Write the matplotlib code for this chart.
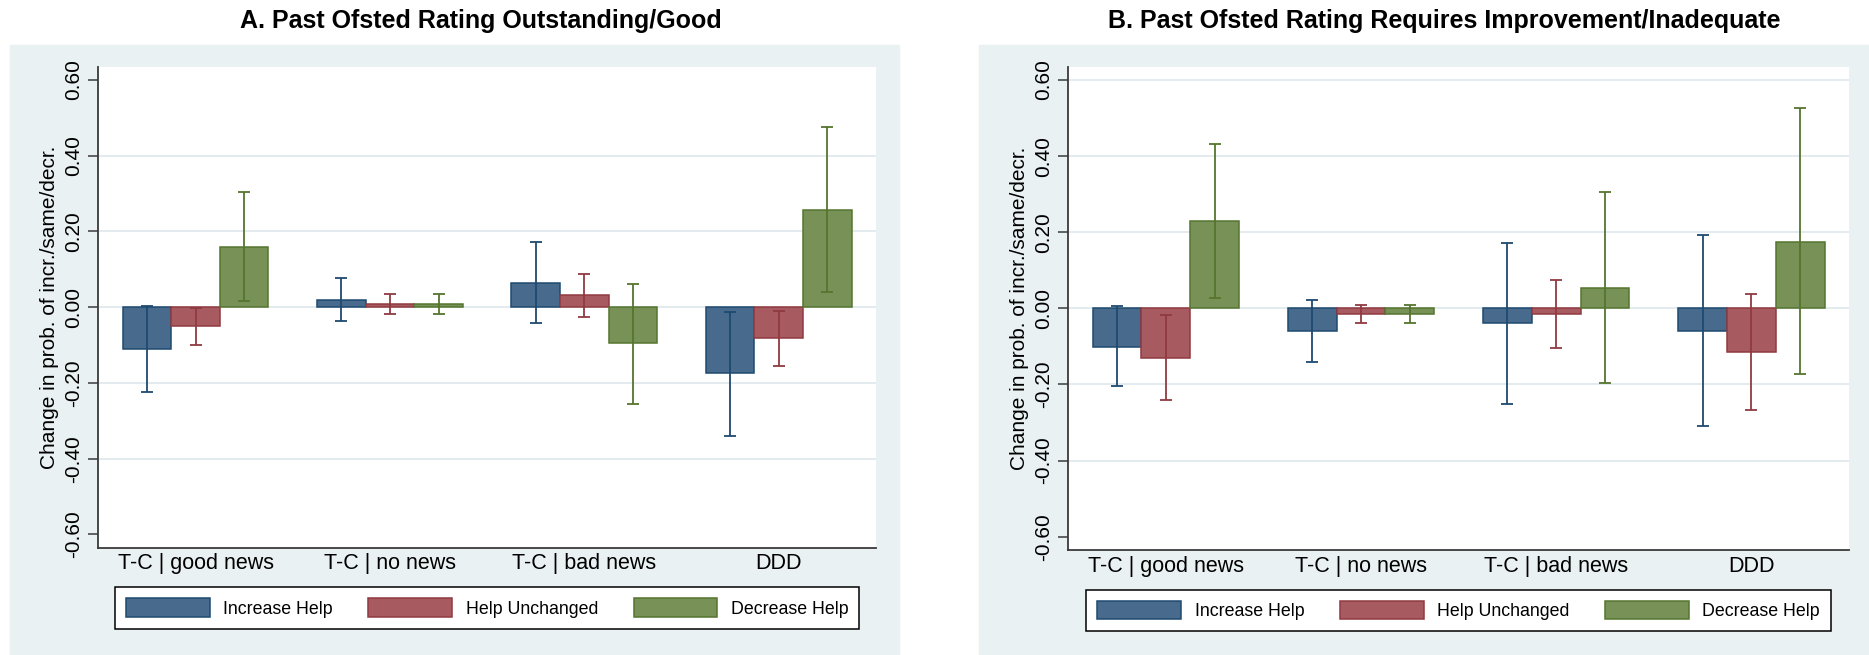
#!/usr/bin/env python3
"""
Two-panel bar chart with confidence intervals (Stata s2color look).
"""

import numpy as np
import matplotlib
matplotlib.use("Agg")
import matplotlib.pyplot as plt
from matplotlib.patches import Rectangle

plt.rcParams["font.family"] = ["Liberation Sans", "DejaVu Sans"]

CATEGORIES = ["T-C | good news", "T-C | no news", "T-C | bad news", "DDD"]
SERIES = ["Increase Help", "Help Unchanged", "Decrease Help"]
YTICKS = [-0.6, -0.4, -0.2, 0.0, 0.2, 0.4, 0.6]
YLABEL = "Change in prob. of incr./same/decr."

TITLE_A = "A. Past Ofsted Rating Outstanding/Good"
# point estimates, lower and upper CI per series (rows) and category (cols)
EST_A = [
    [-0.111, 0.018, 0.063, -0.174],
    [-0.049, 0.008, 0.032, -0.082],
    [0.160, 0.008, -0.095, 0.257],
]
LO_A = [
    [-0.223, -0.037, -0.043, -0.339],
    [-0.100, -0.018, -0.026, -0.155],
    [0.017, -0.018, -0.256, 0.040],
]
HI_A = [
    [0.002, 0.077, 0.172, -0.013],
    [-0.001, 0.034, 0.088, -0.011],
    [0.305, 0.034, 0.062, 0.475],
]
GRID_A = [-0.4, -0.2, 0.0, 0.2, 0.4]

TITLE_B = "B. Past Ofsted Rating Requires Improvement/Inadequate"
EST_B = [
    [-0.101, -0.059, -0.039, -0.059],
    [-0.130, -0.015, -0.015, -0.116],
    [0.230, -0.015, 0.054, 0.175],
]
LO_B = [
    [-0.205, -0.142, -0.252, -0.310],
    [-0.241, -0.038, -0.103, -0.266],
    [0.028, -0.038, -0.197, -0.172],
]
HI_B = [
    [0.007, 0.023, 0.172, 0.192],
    [-0.017, 0.009, 0.075, 0.037],
    [0.433, 0.009, 0.307, 0.527],
]
GRID_B = [-0.4, -0.2, 0.0, 0.2, 0.4, 0.6]

FILLS = ["#486A8C", "#A75A5F", "#779157"]
EDGES = ["#1F4A70", "#903A40", "#55752F"]
PANEL_BG = "#EAF1F3"
GRID_COLOR = "#E1E9ED"
AXIS_COLOR = "#3a3a3a"

W, H = 1869, 655


def draw_panel(ax, est, lo, hi, grid_vals):
    centers = np.arange(len(CATEGORIES)) * 4.0
    handles = []
    for i, name in enumerate(SERIES):
        x = centers + (i - 1)
        vals = np.array(est[i])
        yerr = np.vstack([vals - np.array(lo[i]), np.array(hi[i]) - vals])
        b = ax.bar(x, vals, width=1.0, color=FILLS[i], edgecolor=EDGES[i],
                   linewidth=1.1, label=name, zorder=2)
        ax.errorbar(x, vals, yerr=yerr, fmt="none", ecolor=EDGES[i],
                    elinewidth=1.3, capsize=4.5, capthick=1.3, zorder=3)
        handles.append(b)

    for g in grid_vals:
        ax.axhline(g, color=GRID_COLOR, lw=1.3, zorder=0)

    ax.set_xlim(-2, 14)
    ax.set_ylim(-0.635, 0.635)
    ax.set_xticks(centers)
    ax.set_xticklabels(CATEGORIES, fontsize=15.5)
    ax.tick_params(axis="x", length=0, pad=4)
    ax.set_yticks(YTICKS)
    ax.set_yticklabels([f"{v:.2f}" for v in YTICKS], fontsize=15,
                       rotation=90, va="center")
    ax.tick_params(axis="y", length=7, width=1.1, color=AXIS_COLOR, pad=4)
    for s in ["top", "right"]:
        ax.spines[s].set_visible(False)
    for s in ["left", "bottom"]:
        ax.spines[s].set_color(AXIS_COLOR)
        ax.spines[s].set_linewidth(1.3)
    ax.set_ylabel(YLABEL, fontsize=15)
    ax.yaxis.set_label_coords(-0.05, 0.5)

    leg = ax.legend(handles=handles, loc="upper center",
                    bbox_to_anchor=(0.5, -0.0825), ncol=3, fontsize=12.8,
                    handlelength=4.72, handleheight=1.22, handletextpad=0.75,
                    columnspacing=2.0, borderpad=0.62, borderaxespad=0,
                    fancybox=False, framealpha=1, edgecolor="black")
    leg.get_frame().set_linewidth(1.1)


def main() -> None:
    fig = plt.figure(figsize=(W / 100, H / 100), dpi=100)

    # grey panel backgrounds
    fig.patches.append(Rectangle((10 / W, 0), (899 - 10) / W, 1 - 45 / H,
                                 transform=fig.transFigure, color=PANEL_BG,
                                 zorder=-10))
    fig.patches.append(Rectangle((979 / W, 0), (W - 979) / W, 1 - 45 / H,
                                 transform=fig.transFigure, color=PANEL_BG,
                                 zorder=-10))

    ax_a = fig.add_axes([98.3 / W, (H - 547.7) / H, 777.7 / W, 481 / H])
    ax_b = fig.add_axes([1068.3 / W, (H - 550) / H, 780.7 / W, 483.3 / H])

    draw_panel(ax_a, EST_A, LO_A, HI_A, GRID_A)
    draw_panel(ax_b, EST_B, LO_B, HI_B, GRID_B)

    fig.text(481 / W, 1 - 21 / H, TITLE_A, fontsize=18, fontweight="bold",
             ha="center", va="center")
    fig.text(1444 / W, 1 - 21 / H, TITLE_B, fontsize=18, fontweight="bold",
             ha="center", va="center")

    fig.savefig("out.png", dpi=100)


if __name__ == "__main__":
    main()
